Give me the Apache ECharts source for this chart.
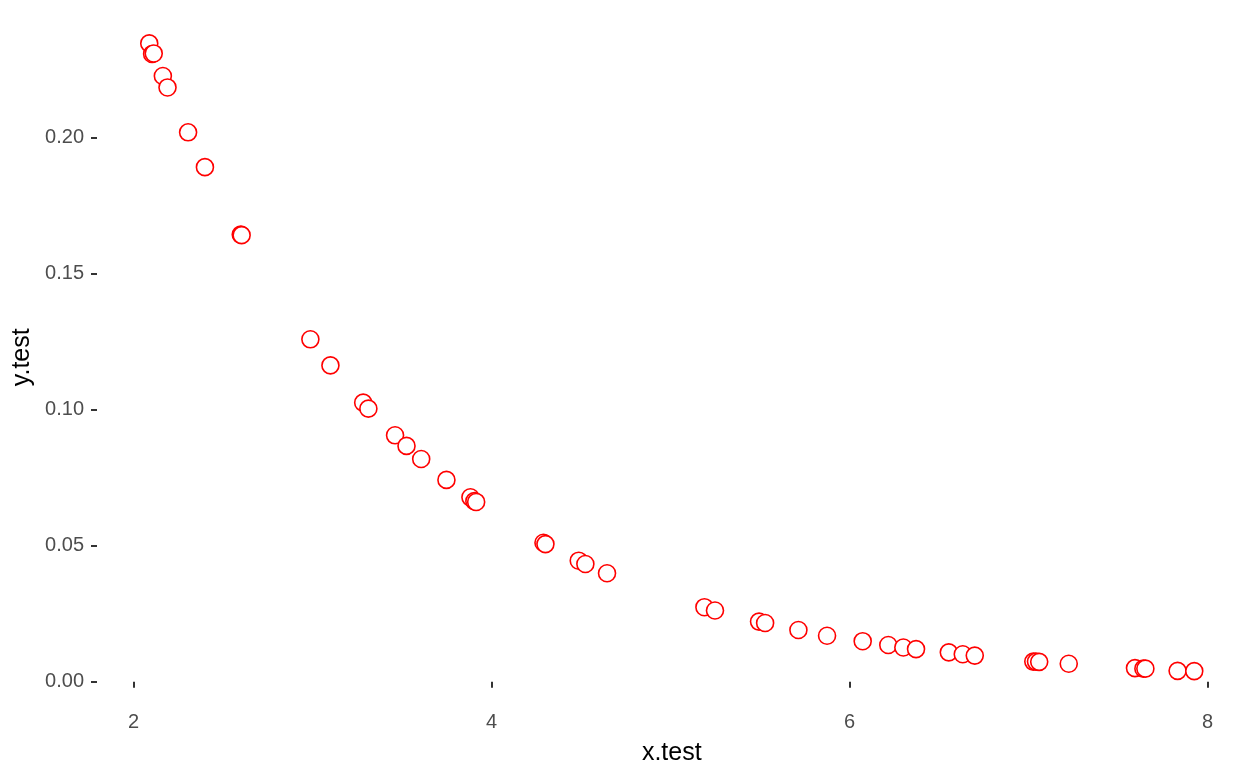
<!DOCTYPE html>
<html>
<head>
<meta charset="utf-8">
<script src="https://cdn.jsdelivr.net/npm/echarts@6/dist/echarts.min.js"></script>
<style>
html,body{margin:0;padding:0;background:#fff;}
#chart{width:1259px;height:778px;}
</style>
</head>
<body>
<div id="chart"></div>
<script>
var xValues = [2.088, 2.104, 2.113, 2.164, 2.190, 2.305, 2.399, 2.599, 2.604, 2.988,
  3.100, 3.283, 3.312, 3.461, 3.525, 3.607, 3.748, 3.882, 3.904, 3.914,
  4.290, 4.301, 4.487, 4.524, 4.645, 5.189, 5.248, 5.494, 5.528, 5.714,
  5.874, 6.073, 6.216, 6.300, 6.371, 6.554, 6.632, 6.699, 7.026, 7.041,
  7.059, 7.224, 7.594, 7.641, 7.652, 7.832, 7.925];
var yValues = [0.2347, 0.2308, 0.2310, 0.2227, 0.2185, 0.2020, 0.1892, 0.1644, 0.1642, 0.1259,
  0.1163, 0.1026, 0.1004, 0.0906, 0.0867, 0.0819, 0.0742, 0.0678, 0.0664, 0.0661,
  0.0511, 0.0506, 0.0445, 0.0433, 0.0399, 0.0274, 0.0262, 0.0221, 0.0216, 0.0190,
  0.0169, 0.0149, 0.0135, 0.0126, 0.0120, 0.0108, 0.0101, 0.0096, 0.0074, 0.0074,
  0.0073, 0.0066, 0.0050, 0.0048, 0.0048, 0.0040, 0.0039];
var xTicks = [2, 4, 6, 8];
var yTicks = [0.00, 0.05, 0.10, 0.15, 0.20];
var xName = 'x.test';
var yName = 'y.test';

var points = xValues.map(function (x, i) { return [x, yValues[i]]; });

function expand(vals) {
  var mn = Math.min.apply(null, vals), mx = Math.max.apply(null, vals);
  var r = mx - mn;
  return [mn - 0.05 * r, mx + 0.05 * r];
}
var xr = expand(xValues), yr = expand(yValues);

var font = "'Liberation Sans', Arial, Helvetica, sans-serif";
var chart = echarts.init(document.getElementById('chart'), null, {renderer: 'canvas'});
chart.setOption({
  animation: false,
  backgroundColor: '#ffffff',
  grid: {left: 97, right: 12.5, top: 12, bottom: 75.5, containLabel: false},
  xAxis: {
    type: 'value',
    min: xr[0], max: xr[1],
    name: xName, nameLocation: 'middle', nameGap: 38,
    nameTextStyle: {color: '#000000', fontSize: 25, fontFamily: font},
    axisLine: {show: false},
    splitLine: {show: false},
    axisTick: {show: true, length: 6, customValues: xTicks, lineStyle: {color: '#333333', width: 2}},
    axisLabel: {customValues: xTicks, color: '#4d4d4d', fontSize: 20, fontFamily: font, margin: 10,
      formatter: function (v) { return String(v); }}
  },
  yAxis: {
    type: 'value',
    min: yr[0], max: yr[1],
    name: yName, nameLocation: 'middle', nameGap: 56, nameRotate: 90,
    nameTextStyle: {color: '#000000', fontSize: 25, fontFamily: font},
    axisLine: {show: false},
    splitLine: {show: false},
    axisTick: {show: true, length: 6, customValues: yTicks, lineStyle: {color: '#333333', width: 2}},
    axisLabel: {customValues: yTicks, color: '#4d4d4d', fontSize: 20, fontFamily: font, margin: 13,
      formatter: function (v) { return v.toFixed(2); }}
  },
  series: [{
    type: 'scatter',
    data: points,
    symbol: 'circle',
    symbolSize: 17,
    itemStyle: {color: '#ffffff', borderColor: '#ff0000', borderWidth: 1.6, opacity: 1},
    emphasis: {disabled: true}
  }]
});
</script>
</body>
</html>
